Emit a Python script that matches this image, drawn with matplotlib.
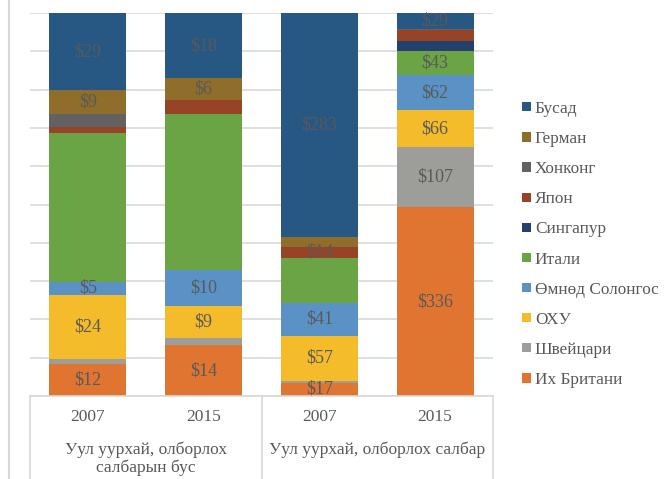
import matplotlib
matplotlib.use("Agg")
import matplotlib.pyplot as plt
from matplotlib.patches import Patch
from matplotlib.lines import Line2D
import numpy as np

plt.rcParams['font.family'] = ['Liberation Serif', 'DejaVu Serif']

years = ["2007", "2015", "2007", "2015"]
groups = ["Уул уурхай, олборлох\nсалбарын бус", "Уул уурхай, олборлох салбар"]

# series, bottom to top (values in $ mln, read from labels / estimated from heights)
series = ["Их Британи", "Швейцари", "ОХУ", "Өмнөд Солонгос", "Итали",
          "Сингапур", "Япон", "Хонконг", "Герман", "Бусад"]
uk        = [12, 14, 17, 336]
swiss     = [2, 2, 2, 107]
russia    = [24, 9, 57, 66]
korea     = [5, 10, 41, 62]
italy     = [56, 43, 57, 43]
singapore = [0, 0, 0, 18]
japan     = [2, 4, 14, 20]
hongkong  = [5, 0, 0, 1]
germany   = [9, 6, 12, 0]
other     = [29, 18, 283, 29]
values = [uk, swiss, russia, korea, italy, singapore, japan, hongkong, germany, other]

# which segments carry a data label
shown = [
    [1, 1, 1, 1],  # uk
    [0, 0, 0, 1],  # swiss
    [1, 1, 1, 1],  # russia
    [1, 1, 1, 1],  # korea
    [0, 0, 0, 1],  # italy
    [0, 0, 0, 0],  # singapore
    [0, 0, 1, 0],  # japan
    [0, 0, 0, 0],  # hongkong
    [1, 1, 0, 0],  # germany
    [1, 1, 1, 1],  # other
]

colors = ["#E07532", "#9D9D99", "#F4BB2B", "#5A92C6", "#6AA444",
          "#253F6E", "#974326", "#626262", "#8F6D2B", "#275883"]

W, H = 671, 479
fig = plt.figure(figsize=(W / 100, H / 100), dpi=100)
fig.patch.set_facecolor("white")

L, R, T, B = 30, 493, 13, 396
ax = fig.add_axes([L / W, 1 - B / H, (R - L) / W, (B - T) / H])

vals = np.array(values, dtype=float)
totals = vals.sum(axis=0)
pct = vals / totals * 100
x = np.arange(len(years))
bottom = np.zeros(len(years))
for i, name in enumerate(series):
    ax.bar(x, pct[i], 0.665, bottom=bottom, color=colors[i], label=name, zorder=2)
    for j in range(len(years)):
        if shown[i][j]:
            ax.text(x[j], bottom[j] + pct[i][j] / 2, f"${int(vals[i][j])}",
                    ha="center", va="center", fontsize=13, color="#595959", zorder=3)
    bottom += pct[i]

ax.set_xlim(-0.5, len(years) - 0.5)
ax.set_ylim(0, 100)
ax.set_yticks(np.arange(0, 101, 10))
ax.yaxis.grid(True, color="#D9D9D9", linewidth=1.2, zorder=0)
ax.set_axisbelow(True)
ax.tick_params(left=False, labelleft=False, bottom=False, labelbottom=False)
for s in ["top", "right", "left"]:
    ax.spines[s].set_visible(False)
ax.spines["bottom"].set_color("#D9D9D9")
ax.spines["bottom"].set_linewidth(1.2)

# category table below the axes
for xp in [L, 262, R]:
    fig.add_artist(Line2D([xp / W, xp / W], [0, 1 - B / H], color="#D9D9D9", linewidth=1.2))
fig.add_artist(Line2D([9 / W, 9 / W], [0, 1], color="#D9D9D9", linewidth=1.5))

for j, yr in enumerate(years):
    xf = ax.transData.transform((x[j], 0))[0] / W
    fig.text(xf, 1 - 417 / H, yr, ha="center", va="center", fontsize=12.5, color="#595959")
fig.text((L + 262) / 2 / W, 1 - 459 / H, groups[0], ha="center", va="center",
         fontsize=12.5, color="#595959", linespacing=1.15)
fig.text((262 + R) / 2 / W, 1 - 450 / H, groups[1], ha="center", va="center",
         fontsize=12.5, color="#595959")

handles = [Patch(facecolor=colors[i], edgecolor="none") for i in range(len(series))][::-1]
labels = series[::-1]
leg = fig.legend(handles, labels, loc="upper left", bbox_to_anchor=(522 / W, 1 - 101 / H),
                 frameon=False, fontsize=12.4, handlelength=0.5, handleheight=0.45,
                 handletextpad=0.25, labelspacing=0.82, borderaxespad=0, borderpad=0)
for t in leg.get_texts():
    t.set_color("#595959")

fig.savefig("out.png", dpi=100, facecolor="white")
